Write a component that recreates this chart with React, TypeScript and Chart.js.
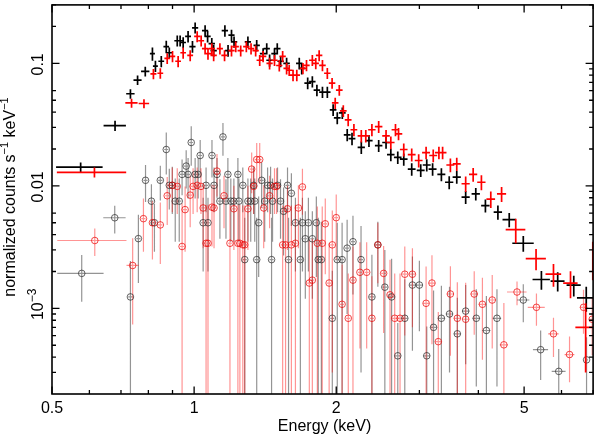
import React, { useEffect, useRef } from "react";
import { Chart, registerables } from "chart.js";
Chart.register(...registerables);

// ---------- axis ranges / ticks ----------
const X_MIN = 0.5;
const X_MAX = 7.0;
const Y_MIN = 2e-4;
const Y_MAX = 0.3;
const xMajorTicks = [0.5, 1, 2, 5];
const xMajorLabels = ["0.5", "1", "2", "5"];
const xMinorTicks = [0.6, 0.7, 0.8, 0.9, 3, 4, 6, 7];
const yMajorTicks = [0.1, 0.01, 0.001];
const yMinorTicks = [
  0.2, 0.3, 0.09, 0.08, 0.07, 0.06, 0.05, 0.04, 0.03, 0.02,
  0.009, 0.008, 0.007, 0.006, 0.005, 0.004, 0.003, 0.002,
  0.0009, 0.0008, 0.0007, 0.0006, 0.0005, 0.0004, 0.0003,
];
const yMinorSkipLeft = [0.09, 0.08, 0.07, 0.009, 0.008, 0.007];

// ---------- black spectrum (crosses) ----------
const bkE = [
  0.575, 0.68, 0.733, 0.759, 0.788, 0.816, 0.828, 0.852, 0.873, 0.886,
  0.921, 0.934, 0.948, 0.971, 0.992, 1.005, 1.055, 1.068, 1.09, 1.1,
  1.162, 1.18, 1.2, 1.215, 1.3, 1.357, 1.4, 1.425, 1.445, 1.48,
  1.5, 1.525, 1.57, 1.67, 1.69, 1.74, 1.78, 1.82, 1.87, 1.915,
  1.97, 2.01, 2.06, 2.11, 2.16, 2.26, 2.346, 2.46, 2.55, 2.61,
  2.7, 2.78, 2.89, 3.02, 3.11, 3.2, 3.34, 3.47, 3.6, 3.76,
  3.95, 4.14, 4.4, 4.65, 4.98, 5.44, 5.89, 6.37, 6.77,
];
const bkDE = [
  0.065, 0.037, 0.015, 0.015, 0.016, 0.01, 0.01, 0.012, 0.012, 0.012,
  0.013, 0.013, 0.013, 0.014, 0.015, 0.015, 0.016, 0.016, 0.017, 0.017,
  0.018, 0.018, 0.018, 0.019, 0.02, 0.021, 0.022, 0.022, 0.023, 0.023,
  0.024, 0.024, 0.025, 0.026, 0.027, 0.028, 0.028, 0.029, 0.03, 0.03,
  0.032, 0.033, 0.034, 0.035, 0.036, 0.04, 0.042, 0.045, 0.047, 0.048,
  0.05, 0.052, 0.055, 0.058, 0.06, 0.062, 0.065, 0.07, 0.072, 0.075,
  0.08, 0.085, 0.09, 0.15, 0.26, 0.23, 0.2, 0.22, 0.3,
];
const bkY = [
  0.0142, 0.031, 0.0565, 0.073, 0.086, 0.12, 0.095, 0.104, 0.137, 0.122,
  0.153, 0.153, 0.148, 0.166, 0.137, 0.195, 0.185, 0.166, 0.145, 0.127,
  0.185, 0.127, 0.17, 0.15, 0.15, 0.14, 0.12, 0.132, 0.106, 0.12,
  0.132, 0.104, 0.1, 0.1, 0.091, 0.069, 0.071, 0.0605, 0.0583, 0.0583,
  0.0417, 0.0359, 0.0394, 0.0261, 0.0243, 0.0206, 0.0234, 0.0213, 0.0226, 0.018,
  0.0171, 0.0165, 0.0137, 0.0134, 0.0148, 0.0137, 0.0124, 0.0107, 0.0118, 0.0081,
  0.0086, 0.0069, 0.0061, 0.0053, 0.0034, 0.00172, 0.00167, 0.00155, 0.00122,
];
const bkDY = [
  0.0013, 0.003, 0.005, 0.0065, 0.008, 0.015, 0.01, 0.011, 0.016, 0.013,
  0.016, 0.016, 0.015, 0.018, 0.015, 0.02, 0.02, 0.018, 0.016, 0.014,
  0.02, 0.014, 0.018, 0.016, 0.016, 0.015, 0.013, 0.014, 0.012, 0.013,
  0.014, 0.011, 0.011, 0.011, 0.01, 0.0075, 0.0075, 0.0065, 0.0062, 0.0062,
  0.0046, 0.004, 0.0043, 0.003, 0.0028, 0.0024, 0.0026, 0.0024, 0.0025, 0.0021,
  0.002, 0.0019, 0.0016, 0.0016, 0.0017, 0.0016, 0.0015, 0.0013, 0.0014, 0.001,
  0.001, 0.00085, 0.0008, 0.0007, 0.0005, 0.0003, 0.0003, 0.0003, 0.00028,
];

// ---------- red spectrum (crosses) ----------
const rdE = [
  0.615, 0.737, 0.783, 0.82, 0.848, 0.877, 0.9, 0.925, 0.948, 0.981,
  1.015, 1.035, 1.055, 1.07, 1.09, 1.1, 1.134, 1.16, 1.2, 1.225,
  1.255, 1.29, 1.32, 1.35, 1.377, 1.4, 1.445, 1.48, 1.515, 1.54,
  1.57, 1.59, 1.62, 1.65, 1.7, 1.73, 1.78, 1.81, 1.84, 1.87,
  1.915, 1.96, 1.99, 2.03, 2.07, 2.12, 2.18, 2.26, 2.31, 2.38,
  2.46, 2.55, 2.61, 2.67, 2.71, 2.78, 2.89, 2.99, 3.1, 3.21,
  3.3, 3.36, 3.49, 3.6, 3.76, 3.9, 4.06, 4.25, 4.48, 4.8,
  5.3, 5.77, 6.27, 6.75, 6.99,
];
const rdDE = [
  0.103, 0.022, 0.02, 0.012, 0.012, 0.012, 0.012, 0.013, 0.013, 0.014,
  0.015, 0.015, 0.016, 0.016, 0.017, 0.017, 0.017, 0.018, 0.018, 0.019,
  0.019, 0.02, 0.02, 0.021, 0.021, 0.022, 0.022, 0.023, 0.023, 0.024,
  0.024, 0.025, 0.025, 0.026, 0.026, 0.027, 0.028, 0.028, 0.029, 0.03,
  0.03, 0.031, 0.032, 0.033, 0.034, 0.035, 0.036, 0.04, 0.042, 0.043,
  0.045, 0.047, 0.048, 0.05, 0.05, 0.052, 0.055, 0.057, 0.06, 0.062,
  0.063, 0.064, 0.068, 0.07, 0.075, 0.078, 0.082, 0.09, 0.1, 0.23,
  0.26, 0.22, 0.22, 0.33, 0.005,
];
const rdY = [
  0.0129, 0.0475, 0.047, 0.082, 0.083, 0.11, 0.114, 0.104, 0.122, 0.116,
  0.166, 0.153, 0.132, 0.12, 0.132, 0.116, 0.132, 0.116, 0.127, 0.137,
  0.127, 0.137, 0.132, 0.127, 0.106, 0.114, 0.1, 0.106, 0.096, 0.114,
  0.091, 0.0878, 0.08, 0.08, 0.091, 0.0963, 0.106, 0.1, 0.116, 0.0963,
  0.083, 0.069, 0.0475, 0.0605, 0.041, 0.0346, 0.0287, 0.0256, 0.0256, 0.0287,
  0.0304, 0.0256, 0.0226, 0.0287, 0.0266, 0.0198, 0.018, 0.0161, 0.0187, 0.0177,
  0.0187, 0.0187, 0.0148, 0.0151, 0.0104, 0.0124, 0.0107, 0.0078, 0.0086, 0.0044,
  0.00255, 0.0019, 0.00161, 0.0007, 0.0026,
];
const rdDY = [
  0.0012, 0.004, 0.004, 0.008, 0.008, 0.011, 0.012, 0.011, 0.013, 0.012,
  0.017, 0.016, 0.014, 0.013, 0.014, 0.012, 0.014, 0.012, 0.013, 0.014,
  0.013, 0.014, 0.014, 0.013, 0.011, 0.012, 0.011, 0.011, 0.01, 0.012,
  0.01, 0.009, 0.0085, 0.0085, 0.0095, 0.01, 0.011, 0.0105, 0.012, 0.01,
  0.0085, 0.007, 0.005, 0.0062, 0.0045, 0.004, 0.0033, 0.003, 0.003, 0.0033,
  0.0034, 0.003, 0.0027, 0.0033, 0.003, 0.0024, 0.0022, 0.002, 0.0022, 0.0021,
  0.0022, 0.0022, 0.0019, 0.0019, 0.0015, 0.0016, 0.0015, 0.0012, 0.0012, 0.001,
  0.0005, 0.0004, 0.0004, 0.0004, 0.0009,
];

// ---------- faint black (circles) ----------
const gE = [
  0.578, 0.679, 0.733, 0.762, 0.789, 0.812, 0.824, 0.848, 0.873, 0.886,
  0.899, 0.912, 0.93, 0.943, 0.962, 0.971, 0.986, 1.005, 1.02, 1.03,
  1.045, 1.06, 1.07, 1.091, 1.102, 1.118, 1.134, 1.151, 1.168, 1.179,
  1.196, 1.214, 1.238, 1.244, 1.268, 1.28, 1.3, 1.318, 1.337, 1.344,
  1.357, 1.37, 1.39, 1.411, 1.431, 1.452, 1.459, 1.466, 1.502, 1.524,
  1.547, 1.577, 1.585, 1.607, 1.639, 1.679, 1.696, 1.72, 1.746, 1.78,
  1.815, 1.832, 1.86, 1.962, 2.01, 2.058, 2.109, 2.17, 2.257, 2.38,
  2.45, 2.535, 2.62, 2.7, 2.794, 2.9, 3.0, 3.11, 3.215, 3.34,
  3.475, 3.61, 3.76, 3.96, 4.16, 4.38, 4.98, 5.42, 5.92, 6.78,
];
const gDE = [
  0.065, 0.037, 0.008, 0.008, 0.008, 0.008, 0.008, 0.009, 0.009, 0.009,
  0.009, 0.009, 0.01, 0.01, 0.01, 0.01, 0.01, 0.01, 0.011, 0.011,
  0.011, 0.011, 0.011, 0.011, 0.011, 0.012, 0.012, 0.012, 0.012, 0.012,
  0.012, 0.012, 0.013, 0.013, 0.013, 0.013, 0.013, 0.013, 0.014, 0.014,
  0.014, 0.014, 0.014, 0.014, 0.015, 0.015, 0.015, 0.015, 0.015, 0.016,
  0.016, 0.016, 0.016, 0.016, 0.017, 0.017, 0.017, 0.018, 0.018, 0.018,
  0.018, 0.019, 0.019, 0.02, 0.02, 0.021, 0.021, 0.022, 0.023, 0.03,
  0.03, 0.032, 0.035, 0.035, 0.04, 0.04, 0.045, 0.05, 0.05, 0.055,
  0.06, 0.06, 0.065, 0.07, 0.08, 0.09, 0.15, 0.2, 0.2, 0.05,
];
const gY = [
  0.00193, 0.00549, 0.00124, 0.00371, 0.0111, 0.0075, 0.005, 0.0111, 0.0198, 0.0101,
  0.0101, 0.0075, 0.0075, 0.0124, 0.0145, 0.0124, 0.0226, 0.0124, 0.0124, 0.0177,
  0.005, 0.0101, 0.005, 0.0177, 0.0101, 0.0124, 0.0075, 0.0251, 0.0075, 0.0124,
  0.0075, 0.0075, 0.0124, 0.0075, 0.0101, 0.0025, 0.0075, 0.0075, 0.0101, 0.0075,
  0.0025, 0.005, 0.0111, 0.0075, 0.0101, 0.0101, 0.0025, 0.0075, 0.0101, 0.0075,
  0.0062, 0.0101, 0.0025, 0.0087, 0.005, 0.0025, 0.005, 0.0037, 0.005, 0.0037,
  0.005, 0.0025, 0.0025, 0.00083, 0.0025, 0.0025, 0.0031, 0.0035, 0.0025, 0.00124,
  0.0033, 0.00149, 0.00124, 0.00041, 0.00083, 0.00155, 0.00155, 0.00041, 0.0007, 0.00083,
  0.0009, 0.00062, 0.00095, 0.00083, 0.00066, 0.00083, 0.00117, 0.00046, 0.000306, 0.00038,
];
const gDY = [
  0.0008, 0.0014, 0.0012, 0.0021, 0.0037, 0.0028, 0.0021, 0.0035, 0.0074, 0.0037,
  0.0042, 0.004, 0.004, 0.004, 0.005, 0.0045, 0.008, 0.0045, 0.0045, 0.006,
  0.003, 0.004, 0.003, 0.006, 0.004, 0.0045, 0.0038, 0.0075, 0.0038, 0.0045,
  0.004, 0.004, 0.0045, 0.004, 0.004, 0.003, 0.004, 0.004, 0.0042, 0.004,
  0.003, 0.0032, 0.0045, 0.004, 0.004, 0.0042, 0.003, 0.004, 0.004, 0.0038,
  0.0035, 0.004, 0.003, 0.004, 0.003, 0.003, 0.003, 0.0025, 0.003, 0.0025,
  0.0032, 0.003, 0.0026, 0.0012, 0.0025, 0.0025, 0.0022, 0.0022, 0.0022, 0.0015,
  0.0018, 0.0015, 0.0013, 0.00035, 0.0009, 0.0011, 0.0009, 0.0003, 0.0007, 0.0007,
  0.0006, 0.0006, 0.0006, 0.0006, 0.0006, 0.0006, 0.0004, 0.0002, 0.00016, 0.0002,
];

// ---------- faint red (circles) ----------
const cE = [
  0.616, 0.741, 0.781, 0.816, 0.848, 0.877, 0.899, 0.921, 0.943, 0.957,
  0.981, 0.995, 1.015, 1.034, 1.045, 1.06, 1.07, 1.091, 1.102, 1.118,
  1.157, 1.191, 1.214, 1.238, 1.25, 1.268, 1.28, 1.3, 1.324, 1.337,
  1.357, 1.377, 1.404, 1.445, 1.48, 1.495, 1.54, 1.562, 1.577, 1.607,
  1.639, 1.663, 1.696, 1.754, 1.78, 1.824, 1.868, 1.896, 1.932, 1.962,
  2.0, 2.058, 2.121, 2.17, 2.245, 2.32, 2.38, 2.45, 2.52, 2.6,
  2.66, 2.73, 2.794, 2.9, 3.1, 3.19, 3.29, 3.49, 3.61, 3.76,
  3.92, 4.08, 4.28, 4.53, 4.83, 5.31, 5.77, 6.24, 6.68, 6.97,
];
const cDE = [
  0.103, 0.022, 0.008, 0.008, 0.009, 0.009, 0.009, 0.01, 0.01, 0.01,
  0.01, 0.01, 0.01, 0.011, 0.011, 0.011, 0.011, 0.011, 0.011, 0.012,
  0.012, 0.012, 0.012, 0.013, 0.013, 0.013, 0.013, 0.013, 0.014, 0.014,
  0.014, 0.014, 0.014, 0.015, 0.015, 0.015, 0.016, 0.016, 0.016, 0.016,
  0.017, 0.017, 0.017, 0.018, 0.018, 0.019, 0.019, 0.02, 0.02, 0.02,
  0.021, 0.021, 0.022, 0.022, 0.023, 0.024, 0.025, 0.03, 0.03, 0.032,
  0.033, 0.035, 0.035, 0.04, 0.045, 0.05, 0.05, 0.06, 0.06, 0.065,
  0.07, 0.075, 0.08, 0.09, 0.23, 0.22, 0.15, 0.15, 0.12, 0.1,
];
const cY = [
  0.00358, 0.00224, 0.0054, 0.005, 0.0048, 0.0083, 0.0101, 0.0099, 0.0032, 0.0064,
  0.0084, 0.0099, 0.0101, 0.0099, 0.0066, 0.0034, 0.0034, 0.0067, 0.0066, 0.0132,
  0.0083, 0.0034, 0.0065, 0.0034, 0.0034, 0.0033, 0.0033, 0.0065, 0.0137, 0.0099,
  0.0164, 0.0164, 0.0066, 0.0083, 0.0099, 0.0099, 0.0033, 0.0033, 0.0065, 0.0033,
  0.0034, 0.0066, 0.0098, 0.00161, 0.0017, 0.0034, 0.0034, 0.0049, 0.00161, 0.0033,
  0.0055, 0.00108, 0.00083, 0.0017, 0.00197, 0.00197, 0.00083, 0.0033, 0.00193, 0.00129,
  0.00083, 0.00083, 0.0019, 0.0019, 0.0011, 0.00161, 0.000535, 0.00131, 0.00083, 0.000815,
  0.00131, 0.00108, 0.00117, 0.000504, 0.00136, 0.00102, 0.00062, 0.00042, 0.00102, 0.000815,
];
const cDY = [
  0.0009, 0.0015, 0.0025, 0.0025, 0.0025, 0.0035, 0.004, 0.004, 0.004, 0.0035,
  0.0038, 0.004, 0.004, 0.004, 0.0035, 0.0036, 0.0036, 0.0035, 0.0035, 0.005,
  0.0038, 0.0036, 0.0035, 0.0036, 0.0036, 0.0036, 0.0036, 0.0035, 0.005, 0.004,
  0.006, 0.006, 0.0035, 0.0038, 0.004, 0.004, 0.0036, 0.0036, 0.0035, 0.0036,
  0.0036, 0.0035, 0.004, 0.002, 0.002, 0.0034, 0.0034, 0.003, 0.0018, 0.003,
  0.003, 0.0012, 0.0011, 0.0015, 0.0015, 0.0015, 0.001, 0.0017, 0.0013, 0.0012,
  0.0011, 0.0011, 0.0013, 0.0012, 0.0011, 0.0011, 0.0004, 0.0009, 0.0008, 0.0008,
  0.0007, 0.0007, 0.0007, 0.0006, 0.0003, 0.0003, 0.00022, 0.00017, 0.0004, 0.0004,
];

type Pt = { x: number; y: number; xl: number; xh: number; yl: number; yh: number };

function build(E: number[], dE: number[], Y: number[], dY: number[]): Pt[] {
  const n = Math.min(E.length, dE.length, Y.length, dY.length);
  const out: Pt[] = [];
  for (let i = 0; i < n; i++) {
    out.push({ x: E[i], y: Y[i], xl: E[i] - dE[i], xh: E[i] + dE[i], yl: Y[i] - dY[i], yh: Y[i] + dY[i] });
  }
  return out;
}

const FONT = "'Liberation Sans', Arial, Helvetica, sans-serif";

function drawErrBars(chart: any, dsIndex: number, color: string, width: number) {
  const { ctx, chartArea: a, scales } = chart;
  const xs = scales.x;
  const ys = scales.y;
  const pts: Pt[] = chart.data.datasets[dsIndex].data;
  ctx.save();
  ctx.beginPath();
  ctx.rect(a.left, a.top, a.right - a.left, a.bottom - a.top);
  ctx.clip();
  ctx.strokeStyle = color;
  ctx.lineWidth = width;
  ctx.lineCap = "butt";
  ctx.beginPath();
  for (const p of pts) {
    const px = xs.getPixelForValue(p.x);
    const py = ys.getPixelForValue(p.y);
    const x1 = xs.getPixelForValue(Math.max(p.xl, 1e-3));
    const x2 = xs.getPixelForValue(p.xh);
    const yTop = ys.getPixelForValue(p.yh);
    const yBot = p.yl > 0 ? ys.getPixelForValue(p.yl) : a.bottom + 5;
    ctx.moveTo(x1, py);
    ctx.lineTo(x2, py);
    ctx.moveTo(px, yTop);
    ctx.lineTo(px, yBot);
  }
  ctx.stroke();
  ctx.restore();
}

type Part = { t: string; sup?: boolean };

function drawRotated(ctx: CanvasRenderingContext2D, parts: Part[], baseX: number, cy: number, size: number, supSize: number) {
  ctx.save();
  ctx.translate(baseX, cy);
  ctx.rotate(-Math.PI / 2);
  ctx.fillStyle = "#000";
  ctx.textBaseline = "alphabetic";
  ctx.textAlign = "left";
  let total = 0;
  const widths: number[] = [];
  for (const p of parts) {
    ctx.font = `${p.sup ? supSize : size}px ${FONT}`;
    const w = ctx.measureText(p.t).width;
    widths.push(w);
    total += w;
  }
  let u = -total / 2;
  parts.forEach((p, i) => {
    ctx.font = `${p.sup ? supSize : size}px ${FONT}`;
    ctx.fillText(p.t, u, p.sup ? -size * 0.42 : 0);
    u += widths[i];
  });
  ctx.restore();
}

const frameAndLabels = {
  id: "frameAndLabels",
  beforeDatasetsDraw(chart: any) {
    // faint series error bars (circles are drawn by Chart.js on top)
    drawErrBars(chart, 3, "rgba(0,0,0,0.42)", 1.2);
    drawErrBars(chart, 2, "rgba(255,0,0,0.42)", 1.2);
  },
  afterDatasetsDraw(chart: any) {
    drawErrBars(chart, 1, "#000000", 1.7);
    drawErrBars(chart, 0, "#ff0000", 1.7);
  },
  afterDraw(chart: any) {
    const { ctx, chartArea: a, scales } = chart;
    const xs = scales.x;
    const ys = scales.y;
    ctx.save();
    ctx.strokeStyle = "#000";
    ctx.lineWidth = 1.6;
    ctx.strokeRect(a.left, a.top, a.right - a.left, a.bottom - a.top);
    const MAJ = 7.5;
    const MIN = 4;
    ctx.lineWidth = 1.3;
    ctx.beginPath();
    const xt = (v: number, len: number) => {
      const px = xs.getPixelForValue(v);
      ctx.moveTo(px, a.bottom);
      ctx.lineTo(px, a.bottom - len);
      ctx.moveTo(px, a.top);
      ctx.lineTo(px, a.top + len);
    };
    xMajorTicks.forEach((v) => xt(v, MAJ));
    xMinorTicks.forEach((v) => xt(v, MIN));
    const yt = (v: number, len: number, left: boolean) => {
      const py = ys.getPixelForValue(v);
      if (left) {
        ctx.moveTo(a.left, py);
        ctx.lineTo(a.left + len, py);
      }
      ctx.moveTo(a.right, py);
      ctx.lineTo(a.right - len, py);
    };
    yMajorTicks.forEach((v) => yt(v, MAJ, true));
    yMinorTicks.forEach((v) => yt(v, MIN, !yMinorSkipLeft.includes(v)));
    ctx.stroke();

    // x tick labels
    ctx.fillStyle = "#000";
    ctx.font = `16px ${FONT}`;
    ctx.textAlign = "center";
    ctx.textBaseline = "alphabetic";
    xMajorTicks.forEach((v, i) => {
      ctx.fillText(xMajorLabels[i], xs.getPixelForValue(v), 413);
    });
    ctx.fillText("Energy (keV)", (a.left + a.right) / 2 + 2, 431);
    ctx.restore();

    // y tick labels (rotated)
    drawRotated(ctx, [{ t: "0.1" }], 42.5, ys.getPixelForValue(0.1) + 1, 16, 12);
    drawRotated(ctx, [{ t: "0.01" }], 42.5, ys.getPixelForValue(0.01) + 1, 16, 12);
    drawRotated(ctx, [{ t: "10" }, { t: "\u22123", sup: true }], 42.5, ys.getPixelForValue(0.001) - 4, 16, 12);

    // y axis title
    drawRotated(
      ctx,
      [
        { t: "normalized counts s" },
        { t: "\u22121", sup: true },
        { t: " keV" },
        { t: "\u22121", sup: true },
      ],
      14.5,
      197,
      16,
      11
    );
  },
};

export default function App() {
  const ref = useRef<HTMLCanvasElement | null>(null);
  useEffect(() => {
    if (!ref.current) return;
    const chart = new Chart(ref.current, {
      type: "scatter",
      data: {
        datasets: [
          { label: "red", data: build(rdE, rdDE, rdY, rdDY) as any, pointRadius: 0, showLine: false },
          { label: "black", data: build(bkE, bkDE, bkY, bkDY) as any, pointRadius: 0, showLine: false },
          {
            label: "red faint",
            data: build(cE, cDE, cY, cDY) as any,
            pointRadius: 3.3,
            pointStyle: "circle",
            borderColor: "rgba(235,0,0,0.8)",
            backgroundColor: "rgba(0,0,0,0)",
            borderWidth: 0.9,
            showLine: false,
          },
          {
            label: "black faint",
            data: build(gE, gDE, gY, gDY) as any,
            pointRadius: 3.3,
            pointStyle: "circle",
            borderColor: "rgba(40,40,40,0.8)",
            backgroundColor: "rgba(0,0,0,0)",
            borderWidth: 0.9,
            showLine: false,
          },
        ],
      },
      options: {
        responsive: false,
        animation: false,
        devicePixelRatio: 1,
        events: [],
        layout: { padding: { left: 52, right: 2, top: 1, bottom: 41 } },
        plugins: { legend: { display: false }, tooltip: { enabled: false } },
        scales: {
          x: { type: "logarithmic", min: X_MIN, max: X_MAX, display: false, bounds: "data" },
          y: { type: "logarithmic", min: Y_MIN, max: Y_MAX, display: false, bounds: "data" },
        },
      },
      plugins: [frameAndLabels],
    });
    return () => chart.destroy();
  }, []);
  return (
    <div style={{ position: "absolute", left: 0, top: 0, width: 598, height: 435, background: "#fff" }}>
      <canvas ref={ref} width={598} height={435} style={{ display: "block" }} />
    </div>
  );
}
